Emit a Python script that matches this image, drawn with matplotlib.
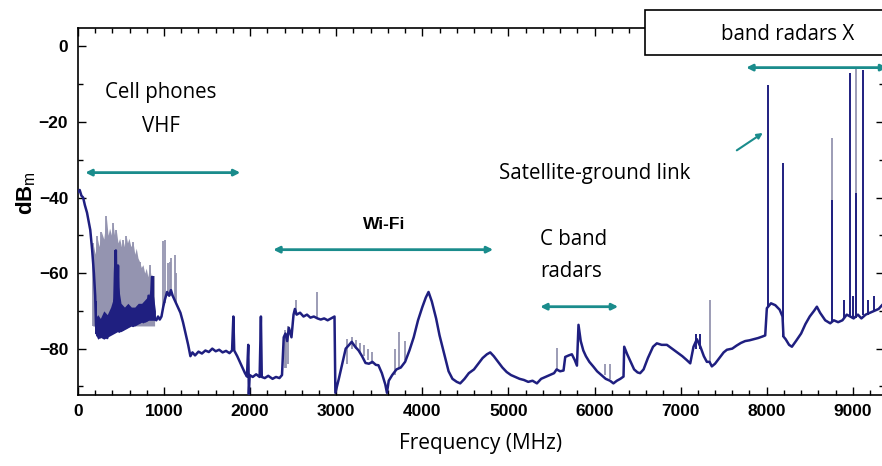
# Spectrum of the radio environment, 0 - 9.3 GHz
import matplotlib
matplotlib.use("Agg")
import matplotlib.pyplot as plt
from matplotlib.patches import Rectangle

# ---------------- data ----------------
# main (dark blue) trace: frequency in MHz, level in dBm
freq_main = [0, 20, 40, 60, 80, 105, 125, 143, 165, 185, 200, 210, 225, 245, 260, 280,
             300, 320, 340, 360, 380, 400, 415, 430, 440, 450, 465, 480, 500, 520, 540,
             560, 580, 600, 620, 640, 660, 680, 700, 720, 740, 760, 780, 800, 820, 840,
             860, 875, 890, 910, 930, 950, 970, 990, 1010, 1035, 1060, 1080, 1100, 1130,
             1160, 1190, 1220, 1250, 1280, 1306, 1330, 1360, 1400, 1440, 1480, 1520, 1560,
             1600, 1640, 1680, 1720, 1760, 1790, 1805, 1815, 1850, 1880, 1910, 1940, 1963,
             1978, 1985, 1995, 2030, 2070, 2110, 2125, 2135, 2170, 2210, 2260, 2300, 2340,
             2370, 2390, 2410, 2430, 2450, 2480, 2504, 2520, 2540, 2580, 2620, 2660, 2700,
             2740, 2782, 2820, 2860, 2900, 2940, 2980, 2990, 3030, 3070, 3110, 3150, 3180,
             3220, 3260, 3300, 3340, 3380, 3420, 3460, 3490, 3530, 3570, 3589, 3610, 3650,
             3700, 3750, 3800, 3850, 3900, 3950, 4000, 4040, 4072, 4110, 4160, 4200, 4250,
             4305, 4350, 4400, 4440, 4490, 4540, 4600, 4650, 4700, 4750, 4789, 4830, 4880,
             4930, 4980, 5030, 5080, 5130, 5180, 5230, 5280, 5331, 5380, 5430, 5480, 5530,
             5560, 5600, 5640, 5660, 5700, 5737, 5770, 5796, 5814, 5840, 5870, 5900, 5940,
             5988, 6030, 6080, 6130, 6180, 6220, 6260, 6300, 6337, 6345, 6380, 6420, 6460,
             6500, 6530, 6570, 6620, 6680, 6724, 6780, 6841, 6900, 6960, 7020, 7070, 7112,
             7150, 7189, 7230, 7270, 7305, 7336, 7363, 7400, 7450, 7500, 7538, 7600, 7650,
             7700, 7750, 7800, 7850, 7900, 7950, 7983, 8002, 8050, 8100, 8151, 8184, 8195,
             8220, 8260, 8293, 8340, 8400, 8450, 8500, 8550, 8583, 8620, 8680, 8738, 8780,
             8830, 8880, 8930, 8970, 9010, 9060, 9100, 9150, 9200, 9250, 9300, 9340]
level_main = [-38.5, -38, -39.5, -40, -42, -44, -46.5, -48.6, -54, -60, -66, -74, -76.5, -73,
              -77, -74.5, -76.8, -73, -77.2, -72, -76, -71, -75.5, -60, -54, -74, -58, -75.5,
              -71, -75, -70, -74.5, -69, -74, -71, -74, -70, -73.5, -69, -73, -70, -73, -68,
              -72.5, -66, -72, -61, -70, -72, -72.5, -71.5, -72.3, -71.5, -69, -67, -65, -66,
              -64.5, -66, -67.5, -69, -70.5, -73, -76, -79, -82, -81, -81.8, -80.8, -81.3,
              -80.5, -80.9, -80, -80.7, -80.3, -81, -80.6, -81.2, -80.5, -71.5, -80.5, -82,
              -83.5, -85, -86.5, -87.4, -79, -92, -87, -87.5, -86.8, -87.5, -71.5, -87.5,
              -87.8, -87.2, -88, -87.5, -87.8, -87, -77, -76, -78, -74.5, -77, -71, -69.5,
              -71, -70.5, -71.5, -71, -71.8, -71.5, -72, -72.3, -72, -72.5, -72, -71.5, -91.7,
              -88, -84, -80, -79, -78.2, -79.5, -80.5, -82, -83.8, -84, -83.5, -84.3, -84.4,
              -86.5, -89.5, -91.7, -88.5, -87, -85.5, -85, -83.5, -80.5, -77, -72.5, -69,
              -66.5, -65, -67.5, -72, -76.5, -81, -86, -88, -88.8, -89.2, -88, -86.5, -85.5,
              -84, -82.5, -81.5, -81, -82, -83.5, -85, -86.2, -87, -87.5, -88, -88.3, -88.8,
              -88.5, -89.2, -88, -87.5, -87, -86.5, -85.5, -86, -85.8, -82.2, -81.8, -81.5,
              -83, -84.5, -73.7, -78, -80.5, -82, -83.5, -84.8, -86, -87, -88, -88.5, -89.2,
              -88.5, -88, -87.4, -79.5, -81.5, -83.5, -85.5, -86.3, -86.5, -85.5, -82.5,
              -79.5, -78.6, -79, -79, -80, -81, -82, -83, -83.9, -79.5, -77.5, -79.5, -82,
              -83.5, -83.5, -84.7, -84, -82.5, -81, -80.3, -80, -79.2, -78.5, -78, -77.8,
              -77.5, -77.2, -76.8, -76.5, -69.3, -68, -68.5, -69.7, -71.5, -76.8, -77.5, -79,
              -79.5, -78, -76, -73.5, -71.5, -70, -68.9, -70.5, -72.5, -73.3, -72.5, -73,
              -72.5, -71, -71.5, -72, -71, -72, -71, -70.5, -70, -69.5, -68.5]

# dark band of the cell-phone region: lower and upper edge
band_freq = [200, 230, 260, 300, 340, 380, 420, 460, 500, 540, 580, 620, 660, 700, 740,
             780, 820, 860, 900]
band_low = [-76, -77.5, -77, -77.5, -77, -76.5, -76, -75.5, -75.5, -75, -74.5, -74, -74,
            -73.5, -73, -73, -72.5, -72.5, -72.5]
band_high = [-72, -71, -72, -70, -71, -69, -66, -62, -68, -69, -68, -69, -69, -68, -68,
             -67, -66, -63, -70]

# grey (max-hold) envelope of the cell-phone region
env_freq = [170, 174, 200, 220, 245, 271, 300, 329, 350, 367, 390, 406, 425, 445, 465, 484,
            505, 522, 540, 561, 575, 592, 615, 639, 660, 677, 697, 716, 735, 755, 775, 793,
            812, 832, 855, 878, 890]
env_top = [-70, -52, -55, -50.3, -53, -49, -51, -45, -50, -48.1, -50, -46.8, -50, -48.6, -52,
           -50.8, -53, -51.2, -53, -50.3, -52, -50.8, -53, -51.7, -55, -53.4, -56, -57,
           -58.5, -57.8, -60, -58.7, -61, -57.8, -62, -60.9, -70]

# grey (max-hold) spikes: frequency, foot, top
grey_freq = [174, 220, 271, 329, 406, 445, 522, 561, 639, 716, 832, 878, 990, 1006, 1045,
             1072, 1084, 1122, 1140, 2400, 2420, 2440, 2530, 2782, 3130, 3180, 3230, 3280,
             3320, 3370, 3410, 3680, 3732, 3800, 5560, 6120, 6180, 7336, 8764, 9040]
grey_foot = [-74, -75, -75, -75, -74, -74, -74, -73, -73, -72, -71, -70, -69, -68, -66,
             -66, -66, -67, -68, -85, -85, -84, -71, -72, -84, -80, -80, -81, -82, -83,
             -84, -87, -85.5, -83, -86, -87, -88, -83.5, -73, -72]
grey_top = [-52, -50.3, -49, -45, -46.8, -48.6, -51.2, -50.3, -51.7, -57, -57.8, -60.9,
            -51.6, -51.2, -57.4, -57, -56, -55.2, -60, -75, -77, -74, -67, -65, -77.5, -77,
            -77.8, -78.5, -79, -80, -81, -80, -75.5, -78, -79.8, -84, -84, -67.1, -24.3, -6]

# dark blue spikes: frequency, foot, top
navy_freq = [212, 426, 470, 868, 7180, 7230, 8010, 8184, 8764, 8900, 8970, 9000, 9040, 9117,
             9180, 9250]
navy_foot = [-76, -75, -75, -72, -80, -80, -69, -76.8, -73, -72, -71.5, -72, -72, -71, -71, -70]
navy_top = [-67.5, -53.9, -57.8, -60.9, -76, -76, -10.1, -30.9, -40.6, -67, -7.0, -66, -38.8,
            -6.2, -67, -66]

# band annotations: (start MHz, end MHz, level dBm)
band_cell = (85, 1886, -33.4)
band_wifi = (2268, 4823, -53.8)
band_cband = (5369, 6275, -68.9)
band_xband = (7762, 9400, -5.6)

x_ticks = [0, 1000, 2000, 3000, 4000, 5000, 6000, 7000, 8000, 9000]
y_ticks = [0, -20, -40, -60, -80]

# ---------------- style ----------------
navy = "#1f1f80"
grey = "#9494b0"
teal = "#1a8c8c"
note_font = "Open Sans"

plt.rcParams["mathtext.fontset"] = "custom"
plt.rcParams["mathtext.bf"] = "Liberation Sans:bold"
plt.rcParams["mathtext.rm"] = "Liberation Sans"

fig = plt.figure(figsize=(8.82, 4.66), dpi=100)
ax = fig.add_axes([0.0884, 0.153, 0.9136, 0.787])

# grey max-hold behind the trace
ax.fill_between(env_freq, -74, env_top, color=grey, linewidth=0, zorder=1)
ax.vlines(grey_freq, grey_foot, grey_top, color=grey, linewidth=1.3, zorder=2)

# dark band, main trace and dark spikes
ax.fill_between(band_freq, band_low, band_high, color=navy, linewidth=0, zorder=3)
ax.plot(freq_main, level_main, color=navy, linewidth=1.8, zorder=3)
ax.vlines(navy_freq, navy_foot, navy_top, color=navy, linewidth=1.4, zorder=3)

ax.set_xlim(0, 9360)
ax.set_ylim(-92.2, 4.9)

ax.set_xticks(x_ticks)
ax.set_xticks(range(0, 9400, 200), minor=True)
ax.set_yticks(y_ticks)
ax.set_yticks(range(-90, 5, 10), minor=True)
ax.tick_params(which="both", direction="in", top=True, right=True, width=1.0)
ax.tick_params(which="major", length=6, pad=7)
ax.tick_params(which="minor", length=3.5)

for lab in ax.get_xticklabels() + ax.get_yticklabels():
    lab.set_fontfamily("Liberation Sans")
    lab.set_fontweight("bold")
    lab.set_fontsize(12.5)

for sp in ax.spines.values():
    sp.set_linewidth(1.2)

ax.set_xlabel("Frequency (MHz)", fontfamily=note_font, fontsize=15, labelpad=10)
ax.set_ylabel(r"$\mathbf{dB}_{\mathrm{m}}$", fontsize=16, labelpad=2)
ax.yaxis.set_label_coords(-0.05, 0.55)

# ---------------- annotations ----------------
arrow_kw = dict(arrowstyle="<|-|>", color=teal, lw=2, mutation_scale=9, shrinkA=0, shrinkB=0)
for start, end, lev in [band_cell, band_wifi, band_cband, band_xband]:
    ax.annotate("", xy=(end, lev), xytext=(start, lev), arrowprops=arrow_kw,
                annotation_clip=False)

ax.annotate("", xy=(7955, -22.9), xytext=(7653, -27.5),
            arrowprops=dict(arrowstyle="-|>", color=teal, lw=1.5, mutation_scale=8,
                            shrinkA=0, shrinkB=0))

ax.text(958, -12.3, "Cell phones", ha="center", va="center", fontfamily=note_font, fontsize=14.8)
ax.text(958, -21.3, "VHF", ha="center", va="center", fontfamily=note_font, fontsize=14.8)
ax.text(3557, -47.2, "Wi-Fi", ha="center", va="center", fontfamily="Liberation Sans",
        fontweight="bold", fontsize=12.5)
ax.text(4893, -33.7, "Satellite-ground link", ha="left", va="center",
        fontfamily=note_font, fontsize=14.8)
ax.text(5370, -51.2, "C band", ha="left", va="center", fontfamily=note_font, fontsize=14.8)
ax.text(5370, -59.6, "radars", ha="left", va="center", fontfamily=note_font, fontsize=14.8)

# boxed label in the upper right corner
fig.patches.append(Rectangle((0.731, 0.882), 0.3, 0.097, transform=fig.transFigure,
                             facecolor="white", edgecolor="black", linewidth=1.2, zorder=5))
fig.text(0.893, 0.925, "band radars X", ha="center", va="center",
         fontfamily=note_font, fontsize=14.8, zorder=6)

fig.savefig("out.png", dpi=100)
